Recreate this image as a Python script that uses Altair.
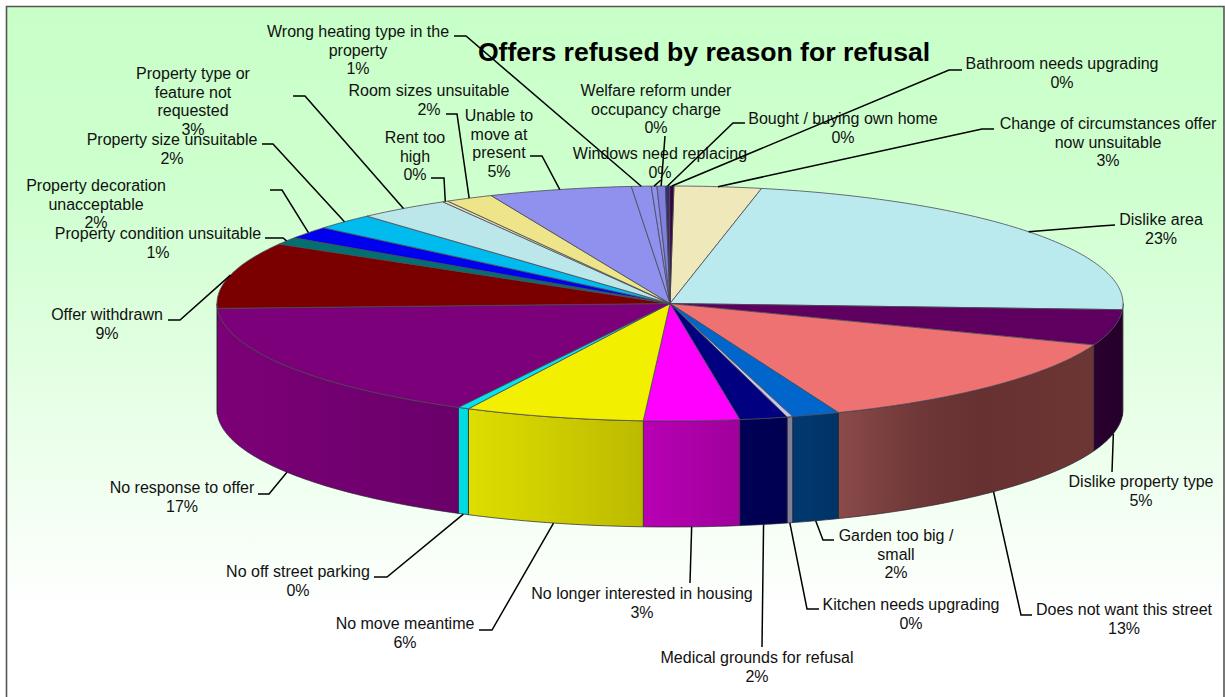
import math

import altair as alt
import numpy as np
import pandas as pd

W, H = 1225, 697

# Reasons clockwise from the top of the pie; "\n" marks a label line break.
REASONS = [
    "Change of circumstances offer\nnow unsuitable",
    "Dislike area",
    "Dislike property type",
    "Does not want this street",
    "Garden too big /\nsmall",
    "Kitchen needs upgrading",
    "Medical grounds for refusal",
    "No longer interested in housing",
    "No move meantime",
    "No off street parking",
    "No response to offer",
    "Offer withdrawn",
    "Property condition unsuitable",
    "Property decoration\nunacceptable",
    "Property size unsuitable",
    "Property type or\nfeature not\nrequested",
    "Rent too\nhigh",
    "Room sizes unsuitable",
    "Unable to\nmove at\npresent",
    "Wrong heating type in the\nproperty",
    "Windows need replacing",
    "Welfare reform under\noccupancy charge",
    "Bought / buying own home",
    "Bathroom needs upgrading",
]
SHARES = [
    3.1, 22.6, 4.9, 13.2, 1.7, 0.2, 1.7, 3.4, 6.4, 0.4, 16.6, 9.1,
    1.0, 1.7, 2.2, 3.3, 0.2, 1.7, 5.1, 0.7, 0.2, 0.3, 0.15, 0.15,
]
TOP_COLORS = [
    "#eee8bb", "#bbeaee", "#5f0060", "#ee7272", "#0066cc", "#c4c4e4",
    "#000080", "#ff00ff", "#f2f000", "#00e5ee", "#7b0079", "#7a0000",
    "#007070", "#0000ee", "#00bbee", "#bbe6ea", "#e0e0b0", "#eee48a",
    "#9090ee", "#9090ee", "#9090ee", "#8080e0", "#30306a", "#3a0040",
]
# Side wall shading as (offset, colour) stops, left to right.
WALL_STOPS = {
    "Dislike area": [(0, "#8a9fa2"), (1, "#8a9fa2")],
    "Dislike property type": [(0, "#2a0030"), (1, "#240029")],
    "Does not want this street": [(0, "#8a4a4a"), (0.3, "#703838"), (0.55, "#663130"), (1, "#6c3635")],
    "Garden too big /\nsmall": [(0, "#003a70"), (1, "#003366")],
    "Kitchen needs upgrading": [(0, "#80809a"), (1, "#80809a")],
    "Medical grounds for refusal": [(0, "#000055"), (1, "#000050")],
    "No longer interested in housing": [(0, "#b800b4"), (1, "#a0009c")],
    "No move meantime": [(0, "#dede00"), (1, "#bcba00")],
    "No off street parking": [(0, "#00dde6"), (1, "#00d8e0")],
    "No response to offer": [(0, "#7c0077"), (1, "#6a006a")],
    "Offer withdrawn": [(0, "#7e0078"), (1, "#7e0078")],
}

# Pie ellipse and its thickness.
CX, CY, RX, RY, DEPTH = 670, 303.5, 453, 117.5, 106
START_ANGLE = 0.5

# Label placement: centre x and first line y.
LABEL_AT = {
    "Bathroom needs upgrading": (1062, 64),
    "Bought / buying own home": (843, 119),
    "Change of circumstances offer\nnow unsuitable": (1108, 124),
    "Dislike area": (1161, 220),
    "Dislike property type": (1141, 482),
    "Does not want this street": (1124, 610),
    "Garden too big /\nsmall": (896, 536),
    "Kitchen needs upgrading": (911, 605),
    "Medical grounds for refusal": (757, 658),
    "No longer interested in housing": (642, 594),
    "No move meantime": (405, 624),
    "No off street parking": (298, 572),
    "No response to offer": (182, 488),
    "Offer withdrawn": (107, 315),
    "Property condition unsuitable": (158, 234),
    "Property decoration\nunacceptable": (96, 186),
    "Property size unsuitable": (172, 140),
    "Property type or\nfeature not\nrequested": (193, 74),
    "Rent too\nhigh": (415, 138),
    "Room sizes unsuitable": (429, 91),
    "Unable to\nmove at\npresent": (499, 116),
    "Wrong heating type in the\nproperty": (358, 32),
    "Windows need replacing": (660, 154),
    "Welfare reform under\noccupancy charge": (656, 91),
}
# Leader line start and elbow, running on to the slice's rim.
LEADER_AT = {
    "Bathroom needs upgrading": [(962, 70), (949, 70)],
    "Bought / buying own home": [(745, 123), (733, 123)],
    "Change of circumstances offer\nnow unsuitable": [(994, 129), (982, 129)],
    "Dislike area": [(1115, 225), (1100, 226)],
    "Dislike property type": [(1112, 472)],
    "Does not want this street": [(1032, 615), (1021, 615)],
    "Garden too big /\nsmall": [(834, 540), (823, 540)],
    "Kitchen needs upgrading": [(819, 609), (807, 609)],
    "Medical grounds for refusal": [(762, 647)],
    "No longer interested in housing": [(690, 583)],
    "No move meantime": [(479, 630), (492, 630)],
    "No off street parking": [(374, 577), (387, 577)],
    "No response to offer": [(258, 494), (269, 494)],
    "Offer withdrawn": [(168, 320), (180, 320)],
    "Property condition unsuitable": [(265, 238), (283, 238)],
    "Property decoration\nunacceptable": [(270, 190), (282, 190)],
    "Property size unsuitable": [(262, 144), (273, 144)],
    "Property type or\nfeature not\nrequested": [(293, 96), (305, 96)],
    "Rent too\nhigh": [(431, 178), (444, 178)],
    "Room sizes unsuitable": [(446, 114), (457, 114)],
    "Unable to\nmove at\npresent": [(530, 156), (542, 156)],
    "Wrong heating type in the\nproperty": [(454, 36), (466, 36)],
    "Windows need replacing": [(661, 180)],
    "Welfare reform under\noccupancy charge": [(665, 136)],
}

LINE_STEP = 18.6
FONT = "Liberation Sans"


def rim(angle, drop=0.0):
    """Point on the ellipse, angle in degrees clockwise from the top."""
    a = math.radians(angle)
    return CX + RX * math.sin(a), CY - RY * math.cos(a) + drop


def arc(a0, a1, drop=0.0):
    steps = max(2, int(abs(a1 - a0)) + 2)
    return [rim(a, drop) for a in np.linspace(a0, a1, steps)]


def feature(name, ring):
    ring = [list(p) for p in ring]
    ring.append(ring[0])
    return {
        "type": "Feature",
        "properties": {"name": name},
        "geometry": {"type": "Polygon", "coordinates": [ring]},
    }


def collection(features):
    return alt.InlineData(
        values={"type": "FeatureCollection", "features": features},
        format=alt.DataFormat(property="features", type="json"),
    )


total = sum(SHARES)
ends = START_ANGLE + np.cumsum(SHARES) / total * 360
starts = np.concatenate(([START_ANGLE], ends[:-1]))
mids = (starts + ends) / 2

x_scale = alt.Scale(domain=[0, W], nice=False, zero=False)
y_scale = alt.Scale(domain=[H, 0], nice=False, zero=False)
X = alt.X("x:Q", scale=x_scale, axis=None)
Y = alt.Y("y:Q", scale=y_scale, axis=None)

# Chart area panel with its green-to-white wash.
panel = (
    alt.Chart(pd.DataFrame({"x": [6.5], "x2": [1224], "y": [6.5], "y2": [720]}))
    .mark_rect(
        fill=alt.LinearGradient(
            gradient="linear",
            x1=0, x2=0, y1=0, y2=1,
            stops=[
                alt.GradientStop(offset=0, color="#c8ffc8"),
                alt.GradientStop(offset=0.25, color="#ceffce"),
                alt.GradientStop(offset=0.55, color="#e6ffe6"),
                alt.GradientStop(offset=0.85, color="#ffffff"),
                alt.GradientStop(offset=1, color="#ffffff"),
            ],
        ),
        stroke="#555555",
        strokeWidth=1.6,
        clip=True,
    )
    .encode(x=X, x2="x2:Q", y=Y, y2="y2:Q")
)

layers = [panel]

# Outer walls of the front half of the pie.
for name, a0, a1 in zip(REASONS, starts, ends):
    lo, hi = max(a0, 90), min(a1, 270)
    if hi <= lo or name not in WALL_STOPS:
        continue
    ring = arc(lo, hi) + arc(hi, lo, DEPTH)
    layers.append(
        alt.Chart(collection([feature(name, ring)]))
        .mark_geoshape(
            fill=alt.LinearGradient(
                gradient="linear",
                x1=0, x2=1, y1=0, y2=0,
                stops=[alt.GradientStop(offset=o, color=c) for o, c in WALL_STOPS[name]],
            ),
            stroke="#2a2030",
            strokeWidth=0.7,
        )
        .project(type="identity", scale=1, translate=[0, 0])
    )

# Top faces of the slices.
top_features = [
    feature(name, [(CX, CY)] + arc(a0, a1))
    for name, a0, a1 in zip(REASONS, starts, ends)
]
layers.append(
    alt.Chart(collection(top_features))
    .mark_geoshape(stroke="#4a4a55", strokeWidth=0.8)
    .encode(
        fill=alt.Fill(
            "properties.name:N",
            scale=alt.Scale(domain=REASONS, range=TOP_COLORS),
            legend=None,
        )
    )
    .project(type="identity", scale=1, translate=[0, 0])
)

# Leader lines from each label to the middle of its slice's rim.
leader_rows = []
for name, mid in zip(REASONS, mids):
    drop = DEPTH if 90 < mid < 270 else 0
    path = LEADER_AT[name] + [rim(mid, drop)]
    for step, (px, py) in enumerate(path):
        leader_rows.append({"name": name, "step": step, "x": px, "y": py})
leaders = (
    alt.Chart(pd.DataFrame(leader_rows))
    .mark_line(color="#000000", strokeWidth=1.5, interpolate="linear")
    .encode(x=X, y=Y, detail="name:N", order="step:Q")
)

# Slice labels: the name's lines, then the rounded share.
text_rows = []
for name, share in zip(REASONS, SHARES):
    lx, ly = LABEL_AT[name]
    lines = name.split("\n") + [f"{round(share / total * 100)}%"]
    for i, line in enumerate(lines):
        text_rows.append({"x": lx, "y": ly + i * LINE_STEP, "text": line})
labels = (
    alt.Chart(pd.DataFrame(text_rows))
    .mark_text(font=FONT, fontSize=16, color="#111111", align="center", baseline="middle")
    .encode(x=X, y=Y, text="text:N")
)

title = (
    alt.Chart(pd.DataFrame({"x": [704], "y": [53], "text": ["Offers refused by reason for refusal"]}))
    .mark_text(font=FONT, fontSize=26.6, fontWeight="bold", color="#000000", align="center", baseline="middle")
    .encode(x=X, y=Y, text="text:N")
)

layers += [title, labels, leaders]

chart = (
    alt.layer(*layers)
    .properties(width=W, height=H, padding=0, autosize=alt.AutoSizeParams(type="none"), background="#ffffff")
    .configure_view(stroke=None)
)

chart.save("out.html", embed_options={"renderer": "svg", "actions": False})
